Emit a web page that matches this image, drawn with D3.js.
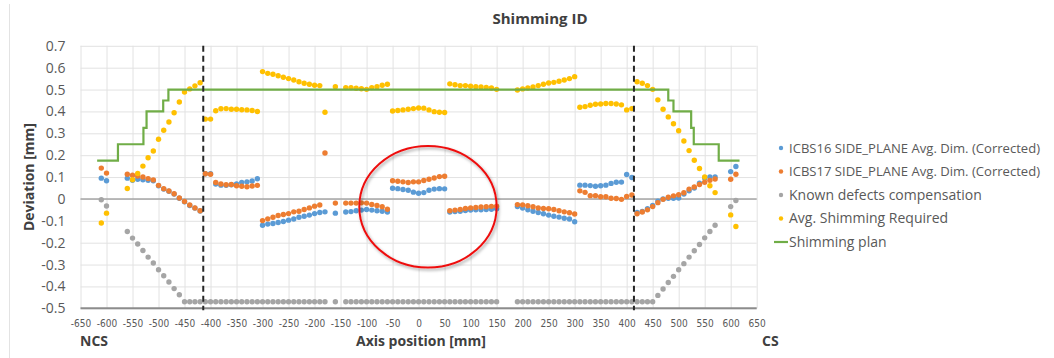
<!DOCTYPE html>
<html>
<head>
<meta charset="utf-8">
<script src="https://cdn.jsdelivr.net/npm/d3@7/dist/d3.min.js"></script>
<style>
  body { margin: 0; background: #fff; overflow: hidden; }
  text { font-family: "Open Sans", "Noto Sans", sans-serif; fill: #595959; }
</style>
</head>
<body>
<div id="chart"></div>
<script>
// axis positions (mm) of the measured points
const positions = [
  -610, -600,
  -560, -550, -540, -530, -520, -510, -500, -490, -480, -470, -460, -450, -440, -430, -420,
  -410, -400, -390, -380, -370, -360, -350, -340, -330, -320, -310,
  -300, -290, -280, -270, -260, -250, -240, -230, -220, -210, -200, -190,
  -180,
  -160,
  -140, -130, -120, -110, -100, -90, -80, -70, -60,
  -50, -40, -30, -20, -10, 0, 10, 20, 30, 40, 50,
  60, 70, 80, 90, 100, 110, 120, 130, 140, 150,
  190, 200, 210, 220, 230, 240, 250, 260, 270, 280, 290, 300,
  310, 320, 330, 340, 350, 360, 370, 380, 390, 400, 410,
  420, 430, 440, 450, 460, 470, 480, 490, 500, 510, 520, 530, 540, 550, 560, 570,
  600, 610
];

const icbs16 = [
  0.095, 0.083,
  0.095, 0.085, 0.09, 0.088, 0.085, 0.083, 0.06, 0.045, 0.035, 0.022, 0.003, -0.013, -0.03, -0.042, -0.055,
  0.115, 0.115, 0.068, 0.063, 0.062, 0.065, 0.068, 0.075, 0.078, 0.082, 0.092,
  -0.12, -0.115, -0.112, -0.108, -0.103, -0.097, -0.092, -0.084, -0.079, -0.074, -0.067, -0.062,
  -0.059,
  -0.065,
  -0.06, -0.058, -0.054, -0.051, -0.048, -0.051, -0.054, -0.056, -0.06,
  0.049, 0.047, 0.043, 0.04, 0.031, 0.026, 0.029, 0.04, 0.045, 0.047, 0.046,
  -0.06, -0.058, -0.056, -0.053, -0.051, -0.05, -0.05, -0.048, -0.047, -0.045,
  -0.035, -0.042, -0.05, -0.056, -0.062, -0.068, -0.074, -0.079, -0.083, -0.088, -0.092, -0.104,
  0.063, 0.063, 0.061, 0.058, 0.06, 0.063, 0.071, 0.076, 0.077, 0.112, 0.098,
  -0.062, -0.057, -0.045, -0.03, -0.01, 0.0, 0.003, 0.003, 0.004, 0.022, 0.037, 0.05, 0.072, 0.096, 0.1, 0.1,
  0.125, 0.148
];

const icbs17 = [
  0.141, 0.118,
  0.113, 0.108, 0.105, 0.1, 0.093, 0.087, 0.062, 0.047, 0.036, 0.024, 0.004, -0.012, -0.028, -0.041, -0.054,
  0.115, 0.113, 0.075, 0.068, 0.065, 0.066, 0.06, 0.058, 0.056, 0.059, 0.062,
  -0.099, -0.091, -0.084, -0.076, -0.071, -0.067, -0.059, -0.056, -0.048, -0.041, -0.033, -0.028,
  0.21,
  -0.019,
  -0.019, -0.019, -0.019, -0.018, -0.019, -0.025, -0.03, -0.036, -0.047,
  0.083, 0.081, 0.078, 0.075, 0.078, 0.078, 0.084, 0.09, 0.096, 0.102, 0.104,
  -0.054, -0.051, -0.048, -0.044, -0.041, -0.039, -0.037, -0.036, -0.034, -0.033,
  -0.026, -0.027, -0.031, -0.036, -0.041, -0.044, -0.045, -0.048, -0.054, -0.059, -0.063, -0.069,
  0.037, 0.03, 0.015, 0.015, 0.01, 0.01, 0.003, 0.002, -0.002, 0.011, 0.018,
  -0.068, -0.06, -0.05, -0.035, -0.017, -0.002, 0.008, 0.014, 0.019, 0.028, 0.045, 0.055, 0.066, 0.076, 0.085, 0.091,
  0.09, 0.113
];

const knownDefects = [
  -0.004, -0.032,
  -0.149, -0.179, -0.206, -0.236, -0.266, -0.293, -0.324, -0.351, -0.38, -0.41, -0.438, -0.47, -0.47, -0.47, -0.47,
  -0.47, -0.47, -0.47, -0.47, -0.47, -0.47, -0.47, -0.47, -0.47, -0.47, -0.47,
  -0.47, -0.47, -0.47, -0.47, -0.47, -0.47, -0.47, -0.47, -0.47, -0.47, -0.47, -0.47,
  -0.47,
  -0.47,
  -0.47, -0.47, -0.47, -0.47, -0.47, -0.47, -0.47, -0.47, -0.47,
  -0.47, -0.47, -0.47, -0.47, -0.47, -0.47, -0.47, -0.47, -0.47, -0.47, -0.47,
  -0.47, -0.47, -0.47, -0.47, -0.47, -0.47, -0.47, -0.47, -0.47, -0.47,
  -0.47, -0.47, -0.47, -0.47, -0.47, -0.47, -0.47, -0.47, -0.47, -0.47, -0.47, -0.47,
  -0.47, -0.47, -0.47, -0.47, -0.47, -0.47, -0.47, -0.47, -0.47, -0.47, -0.47,
  -0.47, -0.47, -0.47, -0.47, -0.441, -0.412, -0.382, -0.354, -0.324, -0.296, -0.266, -0.237, -0.208, -0.178, -0.149, -0.12,
  -0.035, -0.007
];

const avgShimming = [
  -0.11, -0.065,
  0.048, 0.088, 0.116, 0.15, 0.188, 0.219, 0.273, 0.314, 0.352, 0.394, 0.443, 0.489, 0.503, 0.517, 0.531,
  0.365, 0.365, 0.403, 0.412, 0.413, 0.41, 0.41, 0.408, 0.407, 0.404, 0.40,
  0.582, 0.574, 0.57, 0.563, 0.556, 0.55, 0.544, 0.536, 0.529, 0.524, 0.52, 0.518,
  0.396,
  0.513,
  0.509, 0.509, 0.506, 0.504, 0.501, 0.509, 0.513, 0.52, 0.524,
  0.402, 0.404, 0.407, 0.41, 0.413, 0.416, 0.415, 0.407, 0.399, 0.396, 0.395,
  0.526, 0.522, 0.518, 0.518, 0.515, 0.513, 0.512, 0.51, 0.507, 0.501,
  0.498, 0.503, 0.507, 0.512, 0.518, 0.524, 0.53, 0.533, 0.538, 0.544, 0.55, 0.559,
  0.419, 0.422, 0.428, 0.433, 0.434, 0.436, 0.436, 0.434, 0.43, 0.407, 0.413,
  0.536, 0.529, 0.518, 0.501, 0.453, 0.41, 0.375, 0.344, 0.312, 0.265, 0.221, 0.177, 0.139, 0.1, 0.06, 0.029,
  -0.073, -0.126
];

// shimming plan steps: [position, level from this position on]
const planX = [-618, -578, -529, -523, -491, -481, 480, 490, 524, 529, 577, 617];
const planY = [0.175, 0.25, 0.325, 0.4, 0.45, 0.5, 0.45, 0.4, 0.325, 0.25, 0.175, 0.175];

const sidePositions = [-414, 414];
const xTicks = [-650, -600, -550, -500, -450, -400, -350, -300, -250, -200, -150, -100, -50, 0,
  50, 100, 150, 200, 250, 300, 350, 400, 450, 500, 550, 600, 650];
const yTicks = [-0.5, -0.4, -0.3, -0.2, -0.1, 0, 0.1, 0.2, 0.3, 0.4, 0.5, 0.6, 0.7];

const series = [
  { name: "ICBS16 SIDE_PLANE Avg. Dim. (Corrected)", values: icbs16, color: "#5b9bd5" },
  { name: "ICBS17 SIDE_PLANE Avg. Dim. (Corrected)", values: icbs17, color: "#ed7d31" },
  { name: "Known defects compensation", values: knownDefects, color: "#a5a5a5" },
  { name: "Avg. Shimming Required", values: avgShimming, color: "#ffc000" }
];

const W = 1054, H = 358;
const svg = d3.select("#chart").append("svg")
  .attr("width", W).attr("height", H)
  .style("display", "block");

svg.append("rect").attr("width", W).attr("height", H).attr("fill", "#fff");
svg.append("line")
  .attr("x1", 9.5).attr("x2", 9.5).attr("y1", 4).attr("y2", H)
  .attr("stroke", "#e3e3e3");

const x = d3.scaleLinear().domain([-650, 650]).range([80.5, 756.7]);
const y = d3.scaleLinear().domain([-0.5, 0.7]).range([308.3, 45.8]);

// grid
svg.append("g")
  .attr("transform", `translate(0,${y(-0.5)})`)
  .call(d3.axisBottom(x).tickValues(xTicks).tickSize(-(y(-0.5) - y(0.7))).tickFormat(""))
  .call(g => g.select(".domain").remove())
  .selectAll("line").attr("stroke", "#e2e2e2");

svg.append("g")
  .attr("transform", `translate(${x(-650)},0)`)
  .call(d3.axisLeft(y).tickValues(yTicks).tickSize(-(x(650) - x(-650))).tickFormat(""))
  .call(g => g.select(".domain").remove())
  .selectAll("line").attr("stroke", "#e2e2e2");

svg.append("line")
  .attr("x1", x(-650)).attr("x2", x(650)).attr("y1", y(0)).attr("y2", y(0))
  .attr("stroke", "#a6a6a6").attr("stroke-width", 1.5);
svg.append("line")
  .attr("x1", x(-650)).attr("x2", x(650)).attr("y1", y(-0.5)).attr("y2", y(-0.5))
  .attr("stroke", "#8c8c8c").attr("stroke-width", 2);

// tick labels
const yAxis = svg.append("g")
  .attr("transform", `translate(${x(-650) - 15},0)`)
  .call(d3.axisLeft(y).tickValues(yTicks).tickSize(0).tickPadding(0)
    .tickFormat(d => d === 0 ? "0" : d.toFixed(1)));
yAxis.select(".domain").remove();
yAxis.selectAll("text").attr("font-size", "14px").attr("fill", "#595959")
  .style("font-family", "'Open Sans', sans-serif");

const xAxis = svg.append("g")
  .attr("transform", `translate(0,${y(-0.5) + 12})`)
  .call(d3.axisBottom(x).tickValues(xTicks).tickSize(0).tickPadding(0)
    .tickFormat(d => String(d)));
xAxis.select(".domain").remove();
xAxis.selectAll("text").attr("font-size", "10px").attr("fill", "#595959")
  .style("font-family", "'Liberation Sans Narrow', 'DejaVu Sans Condensed', sans-serif");

// data points
const pts = positions.map((p, i) => ({ p, i }));
series.forEach(s => {
  svg.append("g").selectAll("circle")
    .data(pts.filter(d => s.values[d.i] != null))
    .join("circle")
    .attr("cx", d => x(d.p))
    .attr("cy", d => y(s.values[d.i]))
    .attr("r", 2.7)
    .attr("fill", s.color);
});

// shimming plan
const plan = planX.map((p, i) => [p, planY[i]]);
svg.append("path")
  .datum(plan)
  .attr("fill", "none")
  .attr("stroke", "#70ad47")
  .attr("stroke-width", 2.2)
  .attr("d", d3.line().x(d => x(d[0])).y(d => y(d[1])).curve(d3.curveStepAfter));

// side markers
svg.append("g").selectAll("line")
  .data(sidePositions)
  .join("line")
  .attr("x1", d => x(d)).attr("x2", d => x(d))
  .attr("y1", y(0.7)).attr("y2", y(-0.5) + 2)
  .attr("stroke", "#262626").attr("stroke-width", 2)
  .attr("stroke-dasharray", "6,4");

// highlight ellipse
const defs = svg.append("defs");
defs.append("filter").attr("id", "shadow")
  .attr("x", "-20%").attr("y", "-20%").attr("width", "140%").attr("height", "140%")
  .append("feDropShadow")
  .attr("dx", 1.5).attr("dy", 2).attr("stdDeviation", 1.5)
  .attr("flood-color", "#000").attr("flood-opacity", 0.35);

svg.append("ellipse")
  .attr("cx", x(18)).attr("cy", y(-0.036))
  .attr("rx", x(150) - x(18)).attr("ry", y(-0.314) - y(-0.036))
  .attr("fill", "none")
  .attr("stroke", "#ee1111").attr("stroke-width", 2)
  .attr("filter", "url(#shadow)");

// titles
svg.append("text")
  .attr("x", 540).attr("y", 24)
  .attr("text-anchor", "middle")
  .attr("font-size", "15px").attr("font-weight", "bold")
  .style("fill", "#404040")
  .text("Shimming ID");

svg.append("text")
  .attr("transform", `translate(34,${y(0.1)}) rotate(-90)`)
  .attr("text-anchor", "middle")
  .attr("font-size", "14px").attr("font-weight", "bold")
  .style("fill", "#404040")
  .text("Deviation [mm]");

svg.append("text")
  .attr("x", 421).attr("y", 346)
  .attr("text-anchor", "middle")
  .attr("font-size", "14px").attr("font-weight", "bold")
  .style("fill", "#404040")
  .text("Axis position [mm]");

svg.append("text")
  .attr("x", 80).attr("y", 346)
  .attr("font-size", "14px").attr("font-weight", "bold")
  .style("fill", "#404040")
  .text("NCS");

svg.append("text")
  .attr("x", 762).attr("y", 346)
  .attr("font-size", "14px").attr("font-weight", "bold")
  .style("fill", "#404040")
  .text("CS");

// legend
const legend = svg.append("g").attr("transform", "translate(781,148)");
series.forEach((s, i) => {
  const row = legend.append("g").attr("transform", `translate(0,${i * 23.5})`);
  row.append("circle").attr("r", 2.2).attr("fill", s.color);
  const t = row.append("text").attr("x", 8).attr("dy", "0.35em")
    .attr("font-size", "14px").text(s.name);
  // keep long names inside the picture
  const maxW = W - 781 - 8 - 14;
  if (t.node().getComputedTextLength() > maxW) {
    t.attr("font-size", "13.5px")
      .attr("textLength", maxW).attr("lengthAdjust", "spacingAndGlyphs");
  }
});
const planRow = legend.append("g").attr("transform", `translate(0,${4 * 23.5})`);
planRow.append("line").attr("x1", -7).attr("x2", 7)
  .attr("stroke", "#70ad47").attr("stroke-width", 2.2);
planRow.append("text").attr("x", 8).attr("dy", "0.35em")
  .attr("font-size", "14px").text("Shimming plan");
</script>
</body>
</html>
